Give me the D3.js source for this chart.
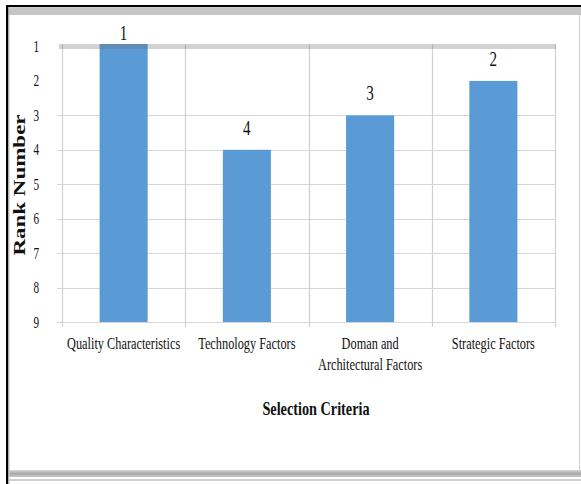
<!DOCTYPE html>
<html><head><meta charset="utf-8">
<script src="https://cdn.jsdelivr.net/npm/d3@7"></script>
<style>body{margin:0;background:#fff}svg{display:block}</style>
</head><body>
<svg id="c" width="581" height="484"></svg>
<script>
// ---- data ----
const categories = ["Quality Characteristics", "Technology Factors", "Doman and Architectural Factors", "Strategic Factors"];
const categoryLines = [["Quality Characteristics"], ["Technology Factors"], ["Doman and", "Architectural Factors"], ["Strategic Factors"]];
const ranks = [1, 4, 3, 2];
const rankTicks = [1, 2, 3, 4, 5, 6, 7, 8, 9];
const gridRanks = [3, 4, 5, 6, 7, 8, 9];
const yTitle = "Rank Number";
const xTitle = "Selection Criteria";

// ---- layout ----
const svg = d3.select("#c");
const FONT = "'Liberation Serif', 'Times New Roman', serif";
const SX = 0.76; // horizontal condensation of all text
const plot = {left: 62, right: 555, top: 46.5, bottom: 322};

const x = d3.scaleBand().domain(categories).range([plot.left, plot.right])
  .paddingInner(0.61).paddingOuter(0.305);
const y = d3.scaleLinear().domain([1, 9]).range([plot.top, plot.bottom]);

// ---- frame ----
svg.append("rect").attr("x", 0).attr("y", 0).attr("width", 581).attr("height", 484).attr("fill", "#fff");
const defs = svg.append("defs");
const gb = defs.append("linearGradient").attr("id", "gb").attr("x1", 0).attr("y1", 0).attr("x2", 0).attr("y2", 1);
gb.append("stop").attr("offset", 0).attr("stop-color", "#d8d8d8");
gb.append("stop").attr("offset", 0.5).attr("stop-color", "#a8a8a8");
gb.append("stop").attr("offset", 1).attr("stop-color", "#c8c8c8");
svg.append("rect").attr("x", 8).attr("y", 8).attr("width", 573).attr("height", 7).attr("fill", "#c6c6c6");
svg.append("rect").attr("x", 8).attr("y", 470).attr("width", 573).attr("height", 7).attr("fill", "url(#gb)");
svg.append("rect").attr("x", 8).attr("y", 479).attr("width", 573).attr("height", 2).attr("fill", "#cfcfcf");
svg.append("line").attr("x1", 9).attr("x2", 9).attr("y1", 15).attr("y2", 484).attr("stroke", "#d4d4d4").attr("stroke-width", 1.5);
svg.append("line").attr("x1", 579.5).attr("x2", 579.5).attr("y1", 15).attr("y2", 470).attr("stroke", "#cfcfcf").attr("stroke-width", 1);
svg.append("rect").attr("x", 6).attr("y", 5).attr("width", 575).attr("height", 2.2).attr("fill", "#000");
svg.append("rect").attr("x", 6).attr("y", 5).attr("width", 2.2).attr("height", 479).attr("fill", "#000");

// ---- grid ----
const grid = svg.append("g");
grid.selectAll("line.h").data(gridRanks).join("line")
  .attr("x1", plot.left - 5).attr("x2", plot.right)
  .attr("y1", d => Math.round(y(d)) + 0.5).attr("y2", d => Math.round(y(d)) + 0.5)
  .attr("stroke", "#d6d6d6").attr("stroke-width", 1.2);
const step = x.step();
grid.selectAll("line.v").data(d3.range(categories.length + 1)).join("line")
  .attr("x1", i => Math.round(plot.left + i * step) + 0.5).attr("x2", i => Math.round(plot.left + i * step) + 0.5)
  .attr("y1", plot.top - 2).attr("y2", plot.bottom + 5)
  .attr("stroke", "#d0d0d0").attr("stroke-width", 1.2);

// ---- bars ----
svg.append("g").selectAll("rect").data(ranks).join("rect")
  .attr("x", (d, i) => x(categories[i]))
  .attr("width", x.bandwidth())
  .attr("y", d => y(d) - (d === 1 ? 2.5 : 0))
  .attr("height", d => y(9) - y(d) + (d === 1 ? 2.5 : 0))
  .attr("fill", "#5b9bd5");

// top line (rank 1) drawn over bars
svg.append("line").attr("x1", plot.left - 3).attr("x2", plot.right + 1)
  .attr("y1", y(1)).attr("y2", y(1))
  .attr("stroke", "rgba(110,110,110,0.3)").attr("stroke-width", 5);

// ---- helper for condensed text ----
function ctext(g, tx, ty, str, size, weight, anchor, sx) {
  const t = g.append("g").attr("transform", `translate(${tx},${ty}) scale(${sx || SX},1)`)
    .append("text").attr("text-anchor", anchor || "middle")
    .attr("font-family", FONT).attr("font-size", size).attr("font-weight", weight || "normal")
    .attr("fill", "#111").text(str);
  return t;
}

// ---- y tick labels ----
const yl = svg.append("g");
rankTicks.forEach(r => ctext(yl, 39, y(r) + 5.5, String(r), 16, "normal", "end", 0.7));

// ---- value labels ----
const vl = svg.append("g");
ranks.forEach((r, i) => {
  const cx = x(categories[i]) + x.bandwidth() / 2;
  ctext(vl, cx, Math.max(y(r) - 15, 40), String(r), 21, "normal", "middle", 0.72);
});

// ---- category labels ----
const cl = svg.append("g");
categoryLines.forEach((lines, i) => {
  const cx = x(categories[i]) + x.bandwidth() / 2;
  lines.forEach((ln, j) => ctext(cl, cx, 349 + j * 21, ln, 16, "normal", "middle", 0.77));
});

// ---- axis titles ----
ctext(svg, 316, 415, xTitle, 19, "bold", "middle", 0.75);
svg.append("g").attr("transform", `translate(25,185) scale(0.72,1) rotate(-90)`)
  .append("text").attr("text-anchor", "middle")
  .attr("font-family", FONT).attr("font-size", 23).attr("font-weight", "bold")
  .attr("fill", "#111").text(yTitle);
</script>
</body></html>
